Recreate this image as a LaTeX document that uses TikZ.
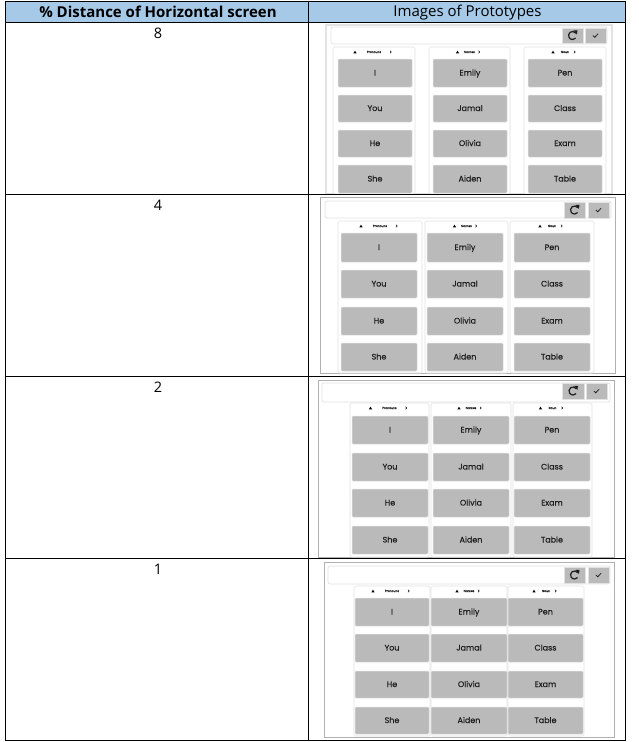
\documentclass[tikz,border=0pt]{standalone}
\usepackage{fontspec}
\setmainfont{Open Sans}
\newfontfamily\protofont[FakeBold=0.35]{Poppins}
\usetikzlibrary{calc}
\definecolor{headblue}{RGB}{166,201,232}
\definecolor{btngrey}{RGB}{186,186,186}
\definecolor{edgegrey}{RGB}{226,226,226}
\definecolor{framegrey}{RGB}{176,176,176}
\definecolor{inkgrey}{RGB}{30,30,30}
\tikzset{
  btn/.style={fill=btngrey,draw=edgegrey,line width=.5pt,rounded corners=1pt,inner sep=0pt,font=\protofont\fontsize{8}{9}\selectfont,text=inkgrey,text height=6.5pt,text depth=1.5pt},
  panelbox/.style={fill=white,draw=edgegrey,line width=.6pt,rounded corners=1.5pt,inner sep=0pt},
  barbox/.style={fill=white,draw=edgegrey,line width=.7pt,rounded corners=2pt,inner sep=0pt},
  framebox/.style={fill=white,inner sep=0pt},
  tiptitle/.style={font=\protofont\fontsize{3}{3}\selectfont,text=inkgrey,inner sep=0pt},
  rule/.style={draw=black,line width=.9pt},
  cell/.style={inner sep=0pt,text=black,font=\fontsize{14.5}{16}\selectfont},
  iconbtn/.style={fill=btngrey,draw=edgegrey,line width=.4pt,inner sep=0pt},
}
% name, x1, x2, y1, y2, style, text
\newcommand{\boxat}[7]{\node[#6,minimum width={#3-#2},minimum height={#5-#4}] (#1) at ({(#2+#3)/2},{(#4+#5)/2}) {#7};}
% panel: name, x1, x2, top, bottom, title, arrow offset
\newcommand{\panelat}[7]{%
  \boxat{#1}{#2}{#3}{#4}{#5}{panelbox}{}
  \pgfmathsetmacro{\cx}{(#2+#3)/2}
  \pgfmathsetmacro{\ty}{#4+5}
  \node[tiptitle] (#1t) at (\cx,\ty) {#6};
  \fill[black] (\cx-#7-9-1.6,\ty+1.3) -- (\cx-#7-9+1.6,\ty+1.3) -- (\cx-#7-9,\ty-1.3) -- cycle;
  \draw[black,line width=.45pt] (\cx+#7+6,\ty-1.3) -- (\cx+#7+7.3,\ty) -- (\cx+#7+6,\ty+1.3);
}
% icons: prefix, refresh x1,x2, check x1,x2, y1 (bottom in \yIconB)
\newcommand{\icons}[6]{%
  \boxat{#1r}{#2}{#3}{#6}{\yIconB}{iconbtn}{}
  \boxat{#1k}{#4}{#5}{#6}{\yIconB}{iconbtn}{}
  \begin{scope}[shift={(#1r.center)},y=1pt]
    \draw[inkgrey,line width=1.2pt] (35:4) arc[start angle=35,end angle=320,radius=4];
    \fill[inkgrey] (1,5.2) -- (5,5) -- (4.4,1) -- cycle;
  \end{scope}
  \draw[inkgrey,line width=.8pt] ($(#1k.center)+(-2.6,0)$) -- ($(#1k.center)+(-.8,1.8)$) -- ($(#1k.center)+(2.6,-1.8)$);
}
\newcommand{\rowbtns}[9]{\boxat{#1}{#2}{#3}{#4}{#5}{btn}{#6}\boxat{#1x}{#2}{#3}{#7}{#8}{btn}{#9}}
\begin{document}
\begin{tikzpicture}[x=1pt,y=-1pt]
\useasboundingbox (0,0) rectangle (639,742);
\fill[white] (0,0) rectangle (639,742);
\fill[headblue] (5.5,1) rectangle (625.5,22);
% ---------- prototype 1
\boxat{f1}{326}{612}{25}{194}{framebox,draw=edgegrey,line width=1.2pt}{}
\boxat{b1}{331}{607}{27}{44}{barbox}{}
\def\yIconB{43}\icons{i1}{562}{583}{585}{606}{28}
\panelat{p1a}{333}{415}{47}{194}{Pronouns}{10}
\panelat{p1b}{429}{510}{47}{194}{Names}{3}
\panelat{p1c}{524}{606}{47}{194}{Noun}{3}
\rowbtns{q1a}{338}{412}{59}{87}{I}{95}{122}{You}
\rowbtns{q1b}{338}{412}{130}{157}{He}{165}{193}{She}
\rowbtns{q1c}{433}{507}{59}{87}{Emily}{95}{122}{Jamal}
\rowbtns{q1d}{433}{507}{130}{157}{Olivia}{165}{193}{Aiden}
\rowbtns{q1e}{528}{602}{59}{87}{Pen}{95}{122}{Class}
\rowbtns{q1f}{528}{602}{130}{157}{Exam}{165}{193}{Table}
% ---------- prototype 2
\boxat{f2}{320}{615}{197}{373}{framebox,draw=framegrey,line width=.7pt}{}
\boxat{b2}{325}{611}{201}{218}{barbox}{}
\def\yIconB{218}\icons{i2}{564}{585}{588}{609}{202}
\panelat{p2a}{338}{422}{221}{373}{Pronouns}{10}
\panelat{p2b}{425}{508}{221}{373}{Names}{3}
\panelat{p2c}{510}{594}{221}{373}{Noun}{3}
\rowbtns{q2a}{341}{417}{233}{262}{I}{270}{298}{You}
\rowbtns{q2b}{341}{417}{307}{335}{He}{343}{371}{She}
\rowbtns{q2c}{427}{503}{233}{262}{Emily}{270}{298}{Jamal}
\rowbtns{q2d}{427}{503}{307}{335}{Olivia}{343}{371}{Aiden}
\rowbtns{q2e}{514}{590}{233}{262}{Pen}{270}{298}{Class}
\rowbtns{q2f}{514}{590}{307}{335}{Exam}{343}{371}{Table}
% ---------- prototype 3
\boxat{f3}{318}{614}{380}{557}{framebox,draw=framegrey,line width=.7pt}{}
\boxat{b3}{322}{610}{383}{402}{barbox}{}
\def\yIconB{399}\icons{i3}{562}{584}{586}{607}{383}
\panelat{p3a}{350}{429}{403}{557}{Pronouns}{10}
\panelat{p3b}{431}{511}{403}{557}{Names}{3}
\panelat{p3c}{513}{592}{403}{557}{Noun}{3}
\rowbtns{q3a}{352}{428}{416}{444}{I}{453}{481}{You}
\rowbtns{q3b}{352}{428}{489}{517}{He}{526}{554}{She}
\rowbtns{q3c}{433}{509}{416}{444}{Emily}{453}{481}{Jamal}
\rowbtns{q3d}{433}{509}{489}{517}{Olivia}{526}{554}{Aiden}
\rowbtns{q3e}{514}{590}{416}{444}{Pen}{453}{481}{Class}
\rowbtns{q3f}{514}{590}{489}{517}{Exam}{526}{554}{Table}
% ---------- prototype 4
\boxat{f4}{324}{614}{562}{737}{framebox,draw=framegrey,line width=.7pt}{}
\boxat{b4}{328}{610}{566}{584}{barbox}{}
\def\yIconB{583}\icons{i4}{564}{585}{588}{609}{567}
\panelat{p4a}{354}{430}{586}{736}{Pronouns}{10}
\panelat{p4b}{431}{507}{586}{736}{Names}{3}
\panelat{p4c}{508}{584}{586}{736}{Noun}{3}
\rowbtns{q4a}{355}{429}{598}{626}{I}{634}{662}{You}
\rowbtns{q4b}{355}{429}{671}{698}{He}{707}{734}{She}
\rowbtns{q4c}{431}{507}{598}{626}{Emily}{634}{662}{Jamal}
\rowbtns{q4d}{431}{507}{671}{698}{Olivia}{707}{734}{Aiden}
\rowbtns{q4e}{508}{583}{598}{626}{Pen}{634}{662}{Class}
\rowbtns{q4f}{508}{583}{671}{698}{Exam}{707}{734}{Table}
% ---------- table rules
\draw[rule] (5.5,1) rectangle (625.5,740);
\foreach \yy in {22,194,376,558} \draw[rule] (5.5,\yy) -- (625.5,\yy);
\draw[rule] (308.5,1) -- (308.5,740);
% ---------- table text
\node[cell,font=\bfseries\fontsize{15}{17}\selectfont] (h1) at (158,12) {\% Distance of Horizontal screen};
\node[cell,font=\fontsize{15}{17}\selectfont] (h2) at (467.5,13) {Images of Prototypes};
\node[cell] (r1) at (158,33.5) {8};
\node[cell] (r2) at (158,205.5) {4};
\node[cell] (r3) at (158,387.5) {2};
\node[cell] (r4) at (158,569.5) {1};
\end{tikzpicture}
\end{document}
